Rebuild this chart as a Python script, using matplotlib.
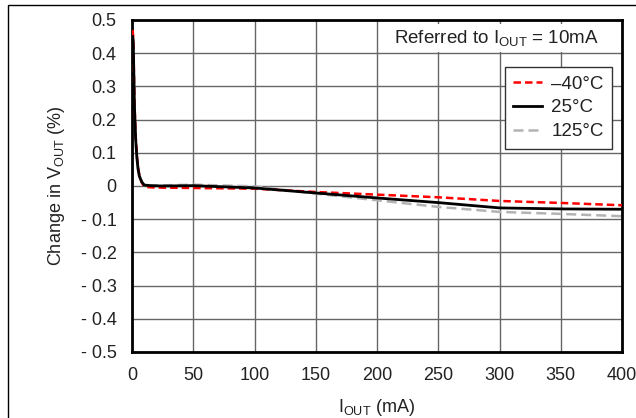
import matplotlib
matplotlib.use("Agg")
import matplotlib.pyplot as plt
from matplotlib.patches import Rectangle

plt.rcParams['font.family'] = ['Liberation Sans', 'DejaVu Sans']
plt.rcParams['mathtext.default'] = 'regular'

# Data (IOUT in mA, change in VOUT in %)
x_m40 = [0.5, 1, 1.5, 2, 3, 4, 5, 6, 8, 10, 15, 25, 50, 100, 150, 200, 250, 300, 350, 400]
y_m40 = [0.47, 0.45, 0.35, 0.25, 0.15, 0.09, 0.055, 0.032, 0.01, -0.002, -0.004, -0.005, -0.006, -0.008, -0.018, -0.026, -0.034, -0.045, -0.051, -0.058]

x_25 = [0.5, 1, 1.5, 2, 3, 4, 5, 6, 8, 10, 15, 25, 50, 100, 150, 200, 250, 300, 350, 400]
y_25 = [0.45, 0.44, 0.34, 0.24, 0.14, 0.085, 0.05, 0.03, 0.012, 0.003, 0.001, 0.0, 0.001, -0.006, -0.021, -0.036, -0.050, -0.066, -0.069, -0.070]

x_125 = [0.5, 1, 1.5, 2, 3, 4, 5, 6, 8, 10, 15, 25, 50, 100, 150, 200, 250, 300, 350, 400]
y_125 = [0.44, 0.43, 0.33, 0.23, 0.13, 0.08, 0.045, 0.028, 0.012, 0.004, 0.002, 0.002, 0.004, -0.001, -0.023, -0.043, -0.063, -0.078, -0.084, -0.091]

labels = ['\u201340\u00b0C', '25\u00b0C', '125\u00b0C']
xticks = [0, 50, 100, 150, 200, 250, 300, 350, 400]
yticks = [0.5, 0.4, 0.3, 0.2, 0.1, 0, -0.1, -0.2, -0.3, -0.4, -0.5]
yticklabels = ['0.5', '0.4', '0.3', '0.2', '0.1', '0', '- 0.1', '- 0.2', '- 0.3', '- 0.4', '- 0.5']

FS = 13
TC = '#222222'

fig = plt.figure(figsize=(6.36, 4.18), dpi=100)
ax = fig.add_axes([132/636, 1 - 352/418, (622-132)/636, (352-20)/418])

# outer frame
fig.patches.append(Rectangle((8/636, -0.05), 1.0, 1 - 5/418 + 0.05, transform=fig.transFigure,
                             fill=False, edgecolor='black', linewidth=1.0))

ax.plot(x_m40, y_m40, color='#ff0000', linestyle=(0, (3, 1.6)), linewidth=1.8, label=labels[0], zorder=3)
ax.plot(x_25, y_25, color='black', linestyle='-', linewidth=2.0, label=labels[1], zorder=4)
ax.plot(x_125, y_125, color='#b3b3b3', linestyle=(0, (4, 2)), linewidth=1.8, label=labels[2], zorder=2)

ax.set_xlim(0, 400)
ax.set_ylim(-0.5, 0.5)
ax.set_xticks(xticks)
ax.set_xticklabels([str(v) for v in xticks], fontsize=FS, color=TC)
ax.set_yticks(yticks)
ax.set_yticklabels(yticklabels, fontsize=FS, color=TC)
ax.tick_params(axis='y', length=0, pad=11)
ax.tick_params(axis='x', length=0, pad=11)
ax.grid(True, color='#666666', linewidth=1.0)
for s in ax.spines.values():
    s.set_linewidth(2.0)
    s.set_color('black')

ax.set_xlabel('I$_{OUT}$ (mA)', fontsize=FS, color=TC, labelpad=9)
ax.set_ylabel('Change in V$_{OUT}$ (%)', fontsize=FS, color=TC, labelpad=10)

ax.text(0.953, 0.945, 'Referred to I$_{OUT}$ = 10mA', transform=ax.transAxes, ha='right', va='center',
        fontsize=13.5, color=TC, zorder=5,
        bbox=dict(facecolor='white', edgecolor='none', pad=3))

leg = ax.legend(loc='upper right', bbox_to_anchor=(0.98, 0.858), fontsize=13.5, frameon=True,
                fancybox=False, framealpha=1, edgecolor='#333333', handlelength=1.55,
                handletextpad=0.5, borderpad=0.45, labelspacing=0.35, borderaxespad=0)
leg.get_frame().set_linewidth(1.0)
for t in leg.get_texts():
    t.set_color(TC)

fig.savefig('out.png', dpi=100)
